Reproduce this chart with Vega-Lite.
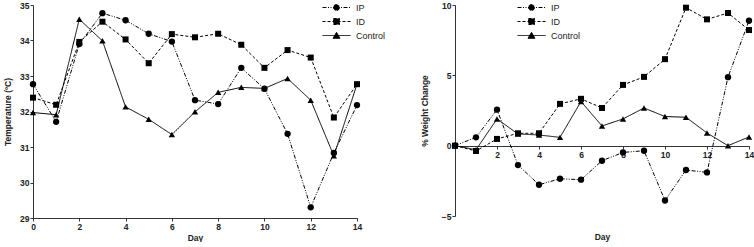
{
  "$schema": "https://vega.github.io/schema/vega-lite/v6.json",
  "padding": {"left": 3, "top": 0, "right": 2, "bottom": 0},
  "background": "white",
  "spacing": 34,
  "datasets": {
    "temp": [
      {"Day": 0, "Group": "IP", "Value": 32.77}, {"Day": 1, "Group": "IP", "Value": 31.71}, {"Day": 2, "Group": "IP", "Value": 33.9}, {"Day": 3, "Group": "IP", "Value": 34.77}, {"Day": 4, "Group": "IP", "Value": 34.57}, {"Day": 5, "Group": "IP", "Value": 34.19}, {"Day": 6, "Group": "IP", "Value": 33.97}, {"Day": 7, "Group": "IP", "Value": 32.32}, {"Day": 8, "Group": "IP", "Value": 32.21}, {"Day": 9, "Group": "IP", "Value": 33.23}, {"Day": 10, "Group": "IP", "Value": 32.64}, {"Day": 11, "Group": "IP", "Value": 31.37}, {"Day": 12, "Group": "IP", "Value": 29.3}, {"Day": 13, "Group": "IP", "Value": 30.83}, {"Day": 14, "Group": "IP", "Value": 32.18},
      {"Day": 0, "Group": "ID", "Value": 32.39}, {"Day": 1, "Group": "ID", "Value": 32.19}, {"Day": 2, "Group": "ID", "Value": 33.96}, {"Day": 3, "Group": "ID", "Value": 34.53}, {"Day": 4, "Group": "ID", "Value": 34.03}, {"Day": 5, "Group": "ID", "Value": 33.36}, {"Day": 6, "Group": "ID", "Value": 34.18}, {"Day": 7, "Group": "ID", "Value": 34.09}, {"Day": 8, "Group": "ID", "Value": 34.19}, {"Day": 9, "Group": "ID", "Value": 33.88}, {"Day": 10, "Group": "ID", "Value": 33.23}, {"Day": 11, "Group": "ID", "Value": 33.73}, {"Day": 12, "Group": "ID", "Value": 33.52}, {"Day": 13, "Group": "ID", "Value": 31.83}, {"Day": 14, "Group": "ID", "Value": 32.77},
      {"Day": 0, "Group": "Control", "Value": 31.97}, {"Day": 1, "Group": "Control", "Value": 31.91}, {"Day": 2, "Group": "Control", "Value": 34.6}, {"Day": 3, "Group": "Control", "Value": 33.99}, {"Day": 4, "Group": "Control", "Value": 32.13}, {"Day": 5, "Group": "Control", "Value": 31.78}, {"Day": 6, "Group": "Control", "Value": 31.35}, {"Day": 7, "Group": "Control", "Value": 31.99}, {"Day": 8, "Group": "Control", "Value": 32.54}, {"Day": 9, "Group": "Control", "Value": 32.68}, {"Day": 10, "Group": "Control", "Value": 32.65}, {"Day": 11, "Group": "Control", "Value": 32.93}, {"Day": 12, "Group": "Control", "Value": 32.32}, {"Day": 13, "Group": "Control", "Value": 30.75}, {"Day": 14, "Group": "Control", "Value": 32.77}
    ],
    "weight": [
      {"Day": 0, "Group": "IP", "Value": 0}, {"Day": 1, "Group": "IP", "Value": 0.59}, {"Day": 2, "Group": "IP", "Value": 2.56}, {"Day": 3, "Group": "IP", "Value": -1.38}, {"Day": 4, "Group": "IP", "Value": -2.78}, {"Day": 5, "Group": "IP", "Value": -2.35}, {"Day": 6, "Group": "IP", "Value": -2.42}, {"Day": 7, "Group": "IP", "Value": -1.07}, {"Day": 8, "Group": "IP", "Value": -0.48}, {"Day": 9, "Group": "IP", "Value": -0.36}, {"Day": 10, "Group": "IP", "Value": -3.9}, {"Day": 11, "Group": "IP", "Value": -1.73}, {"Day": 12, "Group": "IP", "Value": -1.9}, {"Day": 13, "Group": "IP", "Value": 4.87}, {"Day": 14, "Group": "IP", "Value": 8.88},
      {"Day": 0, "Group": "ID", "Value": 0}, {"Day": 1, "Group": "ID", "Value": -0.38}, {"Day": 2, "Group": "ID", "Value": 0.48}, {"Day": 3, "Group": "ID", "Value": 0.88}, {"Day": 4, "Group": "ID", "Value": 0.88}, {"Day": 5, "Group": "ID", "Value": 2.97}, {"Day": 6, "Group": "ID", "Value": 3.33}, {"Day": 7, "Group": "ID", "Value": 2.68}, {"Day": 8, "Group": "ID", "Value": 4.32}, {"Day": 9, "Group": "ID", "Value": 4.89}, {"Day": 10, "Group": "ID", "Value": 6.15}, {"Day": 11, "Group": "ID", "Value": 9.81}, {"Day": 12, "Group": "ID", "Value": 8.98}, {"Day": 13, "Group": "ID", "Value": 9.43}, {"Day": 14, "Group": "ID", "Value": 8.22},
      {"Day": 0, "Group": "Control", "Value": 0}, {"Day": 1, "Group": "Control", "Value": -0.29}, {"Day": 2, "Group": "Control", "Value": 1.9}, {"Day": 3, "Group": "Control", "Value": 0.83}, {"Day": 4, "Group": "Control", "Value": 0.76}, {"Day": 5, "Group": "Control", "Value": 0.59}, {"Day": 6, "Group": "Control", "Value": 3.14}, {"Day": 7, "Group": "Control", "Value": 1.4}, {"Day": 8, "Group": "Control", "Value": 1.9}, {"Day": 9, "Group": "Control", "Value": 2.68}, {"Day": 10, "Group": "Control", "Value": 2.07}, {"Day": 11, "Group": "Control", "Value": 2.02}, {"Day": 12, "Group": "Control", "Value": 0.9}, {"Day": 13, "Group": "Control", "Value": 0}, {"Day": 14, "Group": "Control", "Value": 0.62}
    ]
  },
  "resolve": {"scale": {"x": "independent", "y": "independent", "strokeDash": "independent"}, "legend": {"strokeDash": "independent"}},
  "hconcat": [
    {
      "width": 324,
      "height": 213,
      "data": {"name": "temp"},
      "encoding": {
        "x": {"field": "Day", "type": "quantitative", "scale": {"domain": [0, 14], "nice": false},
              "axis": {"values": [0, 2, 4, 6, 8, 10, 12, 14], "title": "Day", "titlePadding": 3}},
        "y": {"field": "Value", "type": "quantitative", "scale": {"domain": [29, 35], "nice": false, "zero": false},
              "axis": {"values": [29, 30, 31, 32, 33, 34, 35], "title": "Temperature (ºC)", "titlePadding": 7}}
      },
      "layer": [
        {
          "mark": {"type": "line", "color": "black", "strokeWidth": 1},
          "encoding": {
            "strokeDash": {"field": "Group", "type": "nominal",
              "scale": {"domain": ["IP", "ID", "Control"], "range": [[4, 1.5, 1, 1.5, 1, 1.5], [3, 2], [1, 0]]},
              "legend": {"orient": "none", "legendX": 296, "legendY": -5,
                "encode": {"symbols": {"update": {
                  "shape": {"signal": "datum.value === 'IP' ? 'M-2,0H2M0.43,0A0.43,0.43 0 1,1 -0.43,0A0.43,0.43 0 1,1 0.43,0Z' : datum.value === 'ID' ? 'M-2,0H2M-0.43,-0.43H0.43V0.43H-0.43Z' : 'M-2,0H2M0,-0.45L0.5,0.4L-0.5,0.4Z'"}}}}}}
          }
        },
        {"transform": [{"filter": {"field": "Group", "equal": "IP"}}],
         "mark": {"type": "point", "shape": "circle", "filled": true, "color": "black", "opacity": 1, "size": 40}},
        {"transform": [{"filter": {"field": "Group", "equal": "ID"}}],
         "mark": {"type": "point", "shape": "square", "filled": true, "color": "black", "opacity": 1, "size": 36}},
        {"transform": [{"filter": {"field": "Group", "equal": "Control"}}],
         "mark": {"type": "point", "shape": "triangle-up", "filled": true, "color": "black", "opacity": 1, "size": 40}}
      ]
    },
    {
      "width": 294,
      "height": 211,
      "data": {"name": "weight"},
      "encoding": {
        "x": {"field": "Day", "type": "quantitative", "scale": {"domain": [0, 14], "nice": false},
              "axis": {"values": [2, 4, 6, 8, 10, 12, 14], "title": "Day", "offset": -70, "titleY": 86}},
        "y": {"field": "Value", "type": "quantitative", "scale": {"domain": [-5, 10], "nice": false, "zero": false},
              "axis": {"values": [-5, 0, 5, 10], "title": "% Weight Change", "titlePadding": 12}}
      },
      "layer": [
        {
          "mark": {"type": "line", "color": "black", "strokeWidth": 1},
          "encoding": {
            "strokeDash": {"field": "Group", "type": "nominal",
              "scale": {"domain": ["IP", "ID", "Control"], "range": [[4, 1.5, 1, 1.5, 1, 1.5], [3, 2], [1, 0]]},
              "legend": {"orient": "none", "legendX": 69, "legendY": -5,
                "encode": {"symbols": {"update": {
                  "shape": {"signal": "datum.value === 'IP' ? 'M-2,0H2M0.43,0A0.43,0.43 0 1,1 -0.43,0A0.43,0.43 0 1,1 0.43,0Z' : datum.value === 'ID' ? 'M-2,0H2M-0.43,-0.43H0.43V0.43H-0.43Z' : 'M-2,0H2M0,-0.45L0.5,0.4L-0.5,0.4Z'"}}}}}}
          }
        },
        {"transform": [{"filter": {"field": "Group", "equal": "IP"}}],
         "mark": {"type": "point", "shape": "circle", "filled": true, "color": "black", "opacity": 1, "size": 40}},
        {"transform": [{"filter": {"field": "Group", "equal": "ID"}}],
         "mark": {"type": "point", "shape": "square", "filled": true, "color": "black", "opacity": 1, "size": 36}},
        {"transform": [{"filter": {"field": "Group", "equal": "Control"}}],
         "mark": {"type": "point", "shape": "triangle-up", "filled": true, "color": "black", "opacity": 1, "size": 40}}
      ]
    }
  ],
  "config": {
    "view": {"stroke": null},
    "font": "Liberation Sans",
    "axis": {
      "grid": false,
      "domainColor": "#333",
      "domainWidth": 1,
      "tickColor": "#333",
      "tickSize": 3,
      "labelFont": "Liberation Sans",
      "labelFontSize": 8.5,
      "labelFontWeight": "bold",
      "labelColor": "#222",
      "labelPadding": 1,
      "labelFlush": false,
      "labelOverlap": false,
      "titleFont": "Liberation Sans",
      "titleFontSize": 8.5,
      "titleFontWeight": "bold",
      "titleColor": "#222"
    },
    "legend": {
      "title": null,
      "symbolType": "M-2,0H2M0.43,0A0.43,0.43 0 1,1 -0.43,0A0.43,0.43 0 1,1 0.43,0Z",
      "symbolSize": 196,
      "symbolStrokeWidth": 1,
      "symbolStrokeColor": "black",
      "symbolFillColor": "black",
      "labelFont": "Liberation Sans",
      "labelFontSize": 9,
      "labelColor": "#222",
      "labelOffset": 12,
      "rowPadding": 1,
      "padding": 0,
      "symbolOpacity": 1
    }
  }
}
